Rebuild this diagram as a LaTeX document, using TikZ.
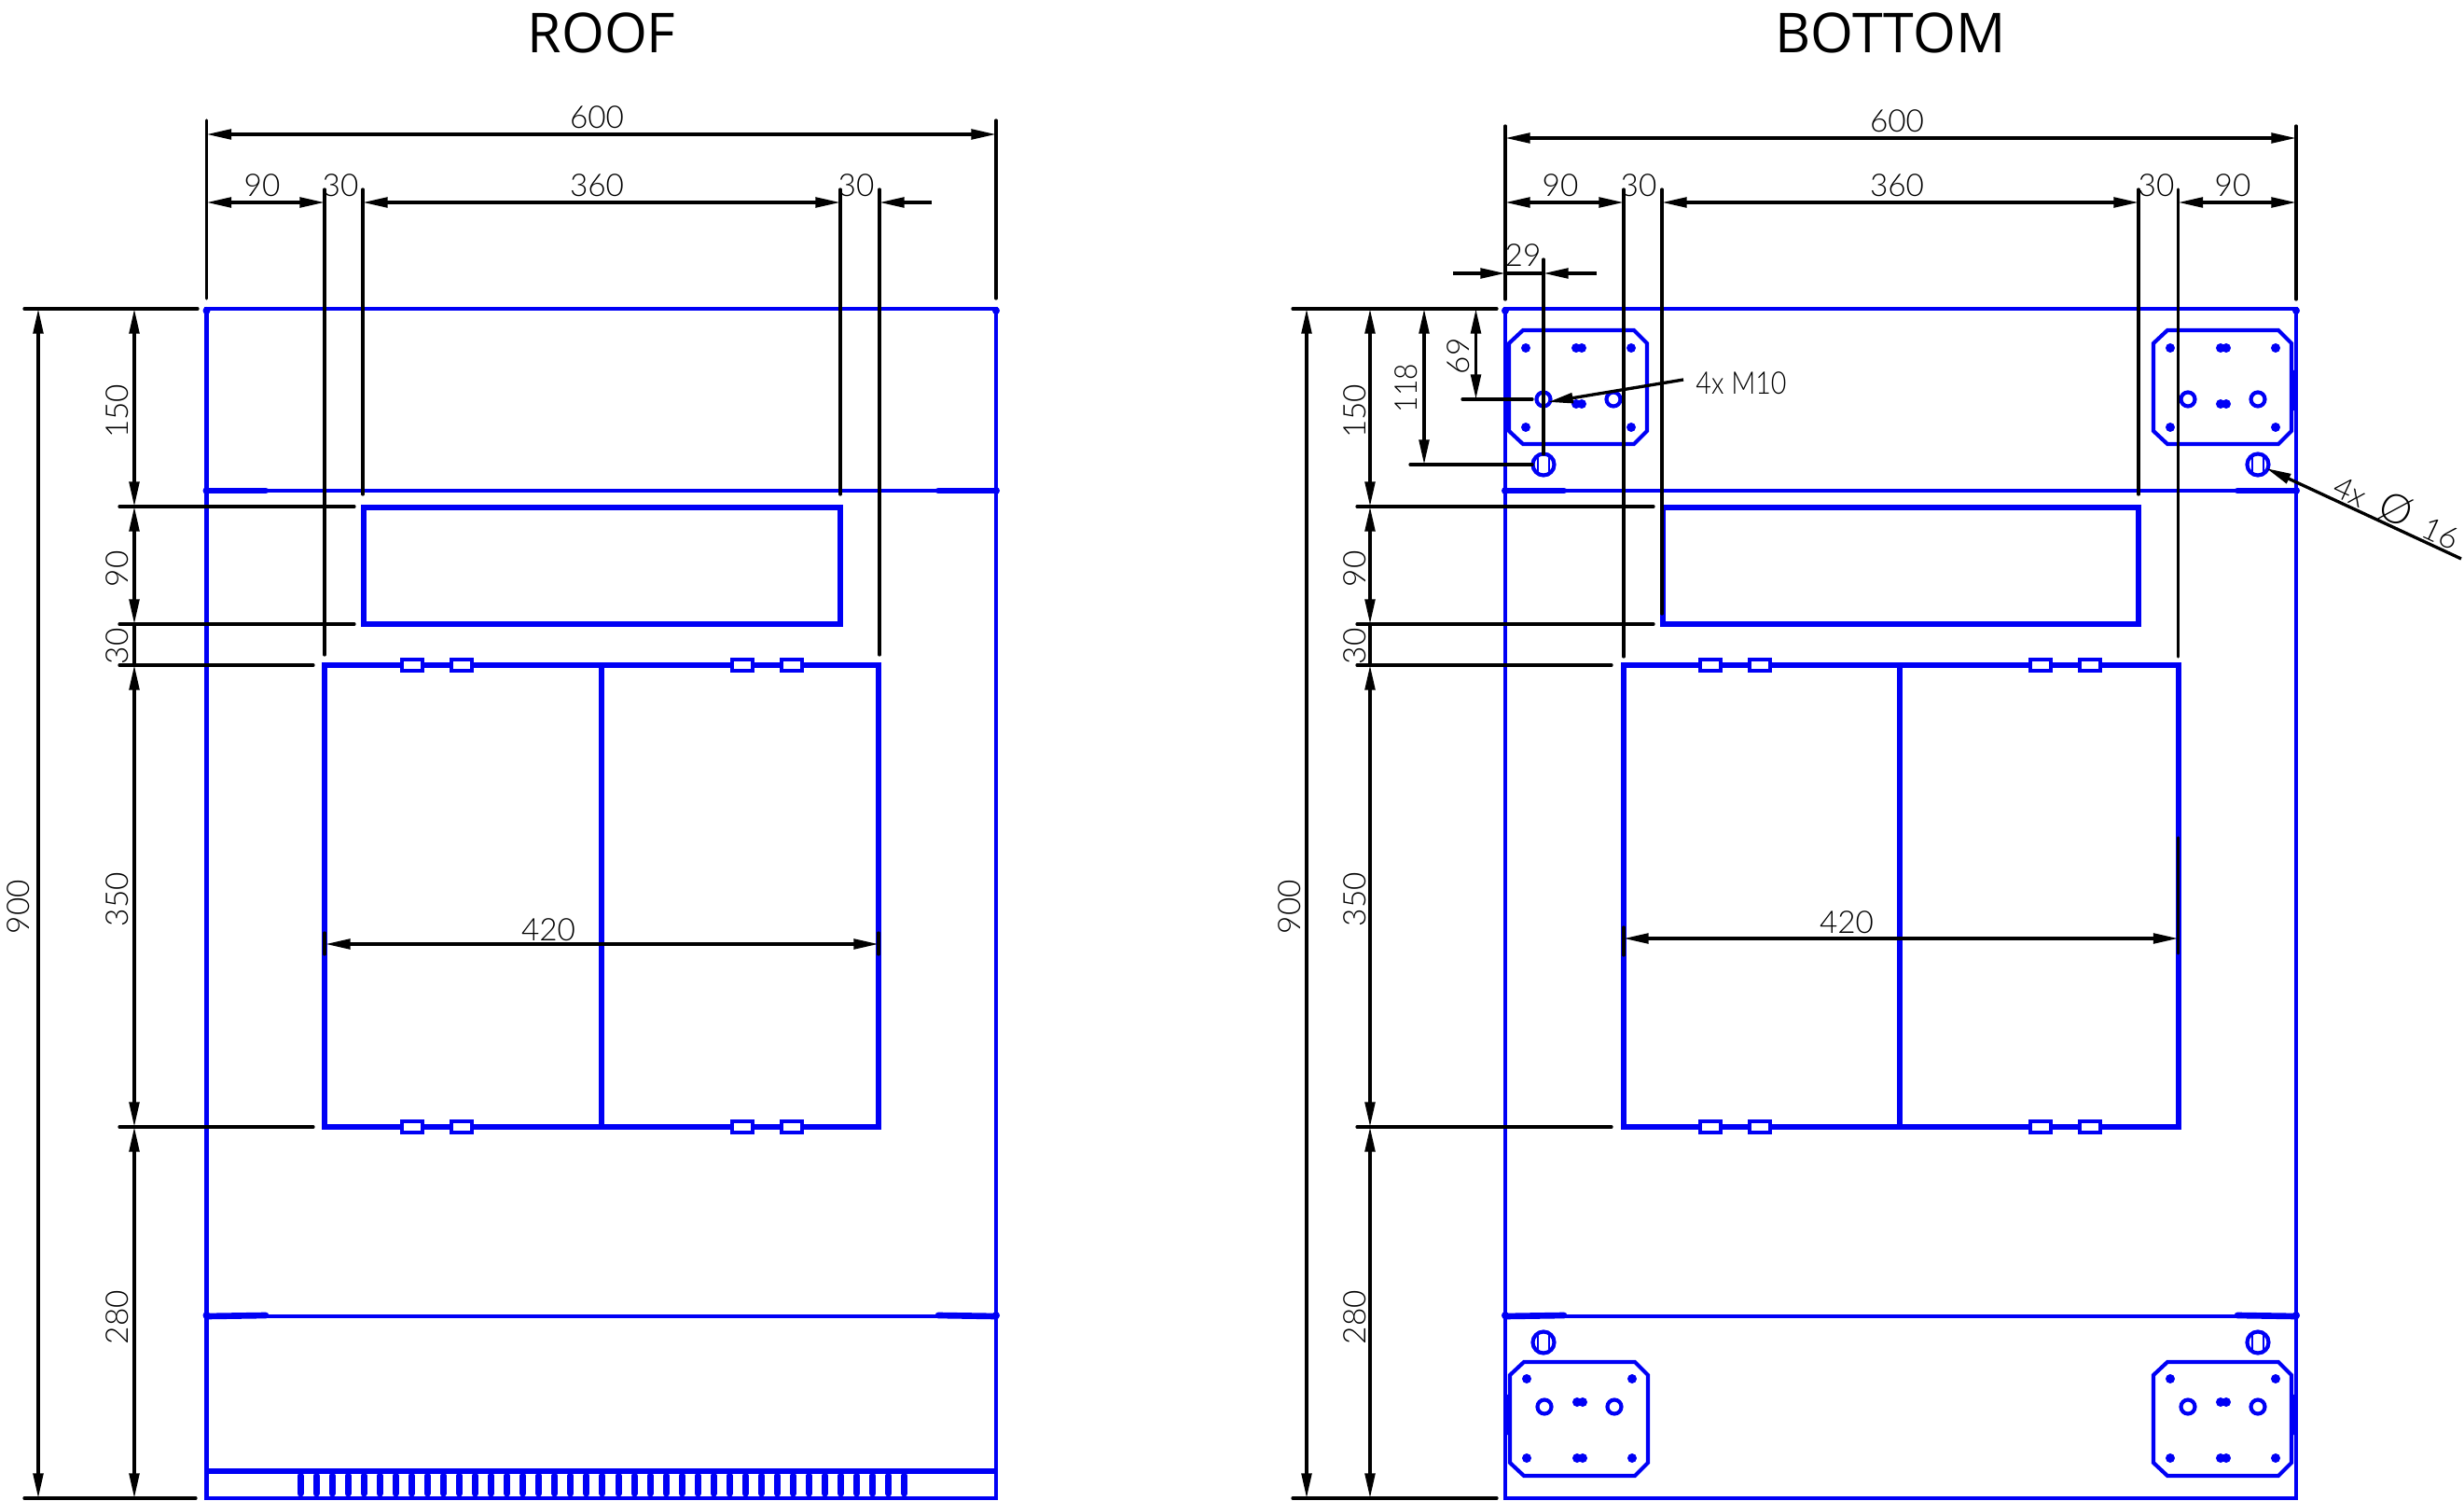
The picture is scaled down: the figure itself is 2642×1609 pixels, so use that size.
\documentclass[tikz,border=0pt]{standalone}
\usepackage{fontspec}
\setmainfont{Open Sans}
\newfontfamily\dimfont{Lato Light}
\usetikzlibrary{arrows.meta}

\definecolor{planblue}{RGB}{0,0,245}

\tikzset{
  outline/.style={draw=planblue,line width=1.25pt},
  heavy/.style={draw=planblue,line width=1.8pt},
  stub/.style={draw=planblue,line width=2pt,line cap=round},
  dimline/.style={line width=1pt,line cap=round},
  dim/.style={line width=1pt,{Triangle[length=8pt,width=3.2pt]}-{Triangle[length=8pt,width=3.2pt]}},
  dimto/.style={line width=1pt,-{Triangle[length=8pt,width=3.2pt]}},
  dimtext/.style={font=\dimfont\fontsize{10}{10}\selectfont,inner sep=0pt},
  dimside/.style={dimtext,rotate=90},
  heading/.style={font=\fontsize{17.7}{18}\selectfont,inner sep=0pt},
  mountplate/.pic={
    \draw[outline] (15,0) -- (134,0) -- (148,14) -- (148,108) -- (134,122) -- (15,122) -- (0,108) -- (0,14) -- cycle;
    \foreach \hx/\hy in {18/19,131/19,18/104,131/104,72/19,78/19,72/79,78/79}
      \fill[planblue] (\hx,\hy) circle (5);
    \draw[outline] (37,74) circle (7.5);
    \draw[outline] (112,74) circle (7.5);
  },
  slothole/.pic={
    \draw[outline] (0,0) circle (11.5);
    \draw[outline,line width=.8pt] (-6,-10) -- (-6,10);
    \draw[outline,line width=.8pt] (6,-10) -- (6,10);
  }
}

\begin{document}
\begin{tikzpicture}[x=0.3pt,y=-0.3pt]
\useasboundingbox (0,0) rectangle (2642,1609);

% ---- roof ----
\coordinate (rtl) at (221.5,331);
\coordinate (rtr) at (1068,331);
\coordinate (rbr) at (1068,1606);
\coordinate (rbl) at (221.5,1606);
\coordinate (rda) at (221.5,526);
\coordinate (rdb) at (1068,526);
\coordinate (rdc) at (221.5,1411);
\coordinate (rdd) at (1068,1411);
\coordinate (rga) at (221.5,1577);
\coordinate (rgb) at (1068,1577);

\draw[outline] (rtl) -- (rtr) -- (rbr) -- (rbl) -- cycle;
\draw[outline] (rda) -- (rdb);
\draw[outline] (rdc) -- (rdd);
\draw[outline,line width=1.7pt] (rga) -- (rgb);
\draw[stub] (rda) -- (285,526);
\draw[stub] (1006,526) -- (rdb);
\draw[stub] (rdc) -- (285,1410);
\draw[stub] (1006,1410) -- (rdd);

\foreach \tx in {0,...,38}
  \draw[planblue,line width=2.1pt,line cap=round] (322+17.05*\tx,1582) -- (322+17.05*\tx,1601);

\draw[heavy] (390,544) rectangle (901,669);
\draw[heavy] (348,713) rectangle (942,1208);
\draw[heavy] (645,713) -- (645,1208);

% ---- bottom ----
\coordinate (btl) at (1614,331);
\coordinate (btr) at (2462,331);
\coordinate (bbr) at (2462,1606);
\coordinate (bbl) at (1614,1606);
\coordinate (bda) at (1614,526);
\coordinate (bdb) at (2462,526);
\coordinate (bdc) at (1614,1411);
\coordinate (bdd) at (2462,1411);

\draw[outline] (btl) -- (btr) -- (bbr) -- (bbl) -- cycle;
\draw[outline] (bda) -- (bdb);
\draw[outline] (bdc) -- (bdd);
\draw[stub] (bda) -- (1677,526);
\draw[stub] (2399,526) -- (bdb);
\draw[stub] (bdc) -- (1677,1410);
\draw[stub] (2399,1410) -- (bdd);

\draw[heavy] (1783,544) rectangle (2293,669);
\draw[heavy] (1741,713) rectangle (2335.5,1208);
\draw[heavy] (2037,713) -- (2037,1208);

% hinges on both squares
\foreach \mx in {645,2037}
  \foreach \hx in {-203,-150,151,204}
    \foreach \hy in {713,1208}
      \draw[outline,fill=white] (\mx+\hx-11,\hy-6) rectangle (\mx+\hx+11,\hy+6);

% corner dots
\foreach \cx in {221.5,1068,1614,2462}
  \foreach \cy in {333,526,1410}
    \fill[planblue] (\cx,\cy) circle (4);

% plates and holes
\pic at (1618,354) {mountplate};
\pic at (2309,354) {mountplate};
\pic[yscale=-1] at (1619,1582) {mountplate};
\pic[yscale=-1] at (2309,1582) {mountplate};
\pic at (1655,498) {slothole};
\pic at (2421,498) {slothole};
\pic at (1655,1439) {slothole};
\pic at (2421,1439) {slothole};

\draw[stub] (1616,400) -- (1616,437);
\draw[stub] (2459,400) -- (2459,437);
\draw[stub] (1616,1498) -- (1616,1535);
\draw[stub] (2459,1498) -- (2459,1535);

% ---- roof dimensions ----
\coordinate (ra) at (221.5,129);
\coordinate (rb) at (221.5,320);
\coordinate (rc) at (1068,129);
\coordinate (rd) at (1068,320);
\coordinate (re) at (348,203);
\coordinate (rf) at (348,702);
\coordinate (rg) at (389,203);
\coordinate (rh) at (389,530);
\coordinate (ri) at (901,203);
\coordinate (rj) at (901,530);
\coordinate (rk) at (943,203);
\coordinate (rl) at (943,702);

\draw[dimline] (ra) -- (rb);
\draw[dimline] (rc) -- (rd);
\draw[dimline] (re) -- (rf);
\draw[dimline] (rg) -- (rh);
\draw[dimline] (ri) -- (rj);
\draw[dimline] (rk) -- (rl);

\draw[dim] (221.5,144) -- (1068,144);
\draw[dim] (221.5,217) -- (348,217);
\draw[dim] (389,217) -- (901,217);
\draw[dimto] (999,217) -- (943,217);
\draw[dim] (349,1012) -- (942,1012);
\draw[dimline] (348,1000) -- (348,1023);
\draw[dimline] (942,1000) -- (942,1023);

\draw[dimline] (26,331) -- (212,331);
\draw[dimline] (128,543) -- (380,543);
\draw[dimline] (128,669) -- (380,669);
\draw[dimline] (128,713) -- (336,713);
\draw[dimline] (128,1208) -- (336,1208);
\draw[dimline] (26,1606) -- (210,1606);

\draw[dim] (41,331) -- (41,1606);
\draw[dim] (144,331) -- (144,543);
\draw[dim] (144,543) -- (144,669);
\draw[dimline] (144,669) -- (144,713);
\draw[dim] (144,713) -- (144,1208);
\draw[dim] (144,1208) -- (144,1606);

% ---- bottom dimensions ----
\coordinate (ba) at (1614,135);
\coordinate (bb) at (1614,321);
\coordinate (bc) at (2462,135);
\coordinate (bd) at (2462,321);
\coordinate (be) at (1741,203);
\coordinate (bf) at (1741,704);
\coordinate (bg) at (1782,203);
\coordinate (bh) at (1782,658);
\coordinate (bi) at (2293,203);
\coordinate (bj) at (2293,530);
\coordinate (bk) at (2335.5,203);
\coordinate (bl) at (2335.5,704);
\coordinate (bm) at (1655,278);
\coordinate (bn) at (1655,487);

\draw[dimline] (ba) -- (bb);
\draw[dimline] (bc) -- (bd);
\draw[dimline] (be) -- (bf);
\draw[dimline] (bg) -- (bh);
\draw[dimline] (bi) -- (bj);
\draw[dimline] (bk) -- (bl);
\draw[dimline] (bm) -- (bn);

\draw[dim] (1614,148) -- (2462,148);
\draw[dim] (1614,217) -- (1741,217);
\draw[dim] (1782,217) -- (2293,217);
\draw[dim] (2335.5,217) -- (2462,217);
\draw[dim] (1741,1006) -- (2335.5,1006);
\draw[dimline] (1741,994) -- (1741,1024);
\draw[dimline] (2335.5,898) -- (2335.5,1022);
\draw[dimto] (1558,293) -- (1614,293);
\draw[dimto] (1712,293) -- (1655,293);
\draw[dimline] (1614,293) -- (1655,293);

\draw[dimline] (1386,331) -- (1605,331);
\draw[dimline] (1455,543) -- (1773,543);
\draw[dimline] (1455,669) -- (1773,669);
\draw[dimline] (1455,713) -- (1728,713);
\draw[dimline] (1455,1208) -- (1728,1208);
\draw[dimline] (1386,1606) -- (1605,1606);
\draw[dimline] (1568,428) -- (1643,428);
\draw[dimline] (1512,498) -- (1643,498);

\draw[dim] (1401,331) -- (1401,1606);
\draw[dim] (1469,331) -- (1469,543);
\draw[dim] (1469,543) -- (1469,669);
\draw[dimline] (1469,669) -- (1469,713);
\draw[dim] (1469,713) -- (1469,1208);
\draw[dim] (1469,1208) -- (1469,1606);
\draw[dim] (1527,331) -- (1527,498);
\draw[dim] (1582.5,331) -- (1582.5,428);

\draw[dimto] (1805,407) -- (1660,431);
\draw[dimto] (2639,599) -- (2430,502);

% ---- texts ----
\node[heading] (rooftitle) at (645,35) {ROOF};
\node[heading] (bottomtitle) at (2027,35) {BOTTOM};

\node[dimtext] (r600) at (640,126) {600};
\node[dimtext] (r90) at (281,199) {90};
\node[dimtext] (r30a) at (365,199) {30};
\node[dimtext] (r360) at (640,199) {360};
\node[dimtext] (r30b) at (918,199) {30};
\node[dimtext] (r420) at (588,997) {420};
\node[dimside] (r900) at (20,972) {900};
\node[dimside] (r150) at (126,441) {150};
\node[dimside] (r90s) at (126,610) {90};
\node[dimside] (r30s) at (126,693) {30};
\node[dimside] (r350) at (126,964) {350};
\node[dimside] (r280) at (126,1412) {280};

\node[dimtext] (b600) at (2034,130) {600};
\node[dimtext] (b90a) at (1673,199) {90};
\node[dimtext] (b30a) at (1757,199) {30};
\node[dimtext] (b360) at (2034,199) {360};
\node[dimtext] (b30b) at (2312,199) {30};
\node[dimtext] (b90b) at (2394,199) {90};
\node[dimtext] (b420) at (1980,989) {420};
\node[dimtext] (b29) at (1633,274) {29};
\node[dimside] (b900) at (1383,972) {900};
\node[dimside] (b150) at (1453,441) {150};
\node[dimside] (b90s) at (1453,610) {90};
\node[dimside] (b30s) at (1453,693) {30};
\node[dimside] (b350) at (1453,964) {350};
\node[dimside] (b280) at (1453,1412) {280};
\node[dimside,xscale=.9] (b118) at (1508,416) {118};
\node[dimside] (b69) at (1563.5,382) {69};
\node[dimtext,xscale=.86] (bm10) at (1867,411) {4x M10};
\node[dimtext,rotate=-25] (bd16) at (2571,547) {4x\ \ {\fontsize{13}{13}\selectfont Ø}\ \ 16};
\end{tikzpicture}
\end{document}
